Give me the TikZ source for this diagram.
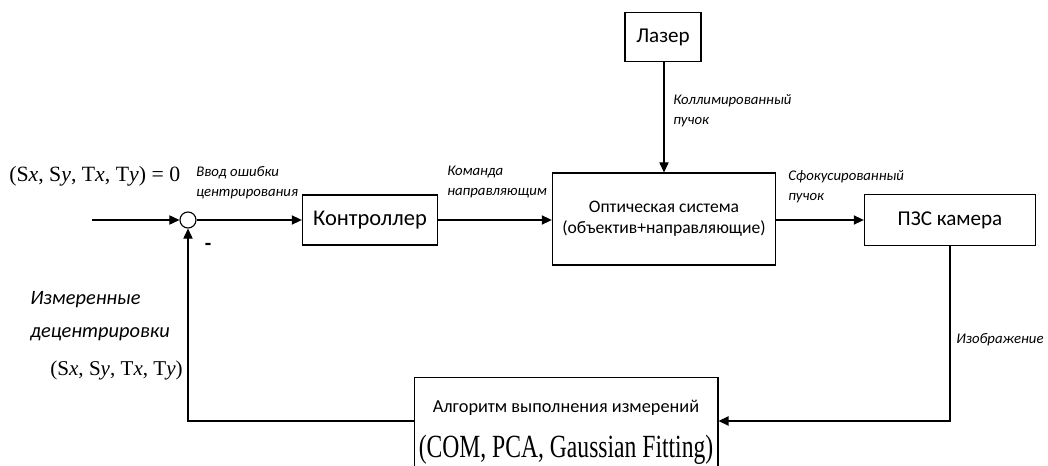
\documentclass[tikz,border=0pt]{standalone}
\usepackage{fontspec}
\setmainfont{Carlito}
\newfontfamily\timesfont{Liberation Serif}
\usepackage{tikz}
\usetikzlibrary{arrows.meta, positioning, calc}

\newcommand{\decvec}{(S\textit{x}, S\textit{y}, T\textit{x}, T\textit{y})}

\begin{document}
\begin{tikzpicture}[
    x=0.025cm, y=-0.025cm,
    block/.style={rectangle, draw=black, line width=0.8pt, align=center, font=\fontsize{15}{18}\selectfont},
    lbl/.style={align=left, font=\fontsize{10.5}{14}\selectfont\itshape, inner sep=0pt},
    arrow/.style={-{Triangle[length=2.5mm, width=2.3mm]}, line width=0.8pt},
  ]
  \useasboundingbox (0,0) rectangle (1048,466);
  \clip (0,0) rectangle (1048,466);

  \node[block, minimum width=1.9cm, minimum height=1.22cm] (laser) at (663,37) {Лазер};
  \node[block, minimum width=5.58cm, minimum height=2.3cm, font=\fontsize{12.5}{15}\selectfont] (optic) at (664,219) {Оптическая система\\(объектив+направляющие)};
  \node[block, minimum width=3.38cm, minimum height=1.25cm, font=\fontsize{16}{19}\selectfont] (ctrl) at (370,220) {Контроллер};
  \node[block, minimum width=4.28cm, minimum height=1.28cm] (cam) at (950,220) {ПЗС камера};
  \node[block, anchor=north, minimum width=7.3cm, minimum height=2.75cm, font=\fontsize{13}{16}\selectfont] (algo) at (566,377)
    {Алгоритм выполнения измерений\\[13pt]\scalebox{0.73}[1]{\fontsize{23}{26}\timesfont (COM, PCA, Gaussian Fitting)}};
  \node[circle, draw=black, line width=0.8pt, minimum size=0.4cm, inner sep=0pt] (sum) at (188,220) {};
  \coordinate (in) at (92,220);
  \coordinate (algoin) at ($(algo.north east)+(0,44)$);
  \coordinate (algoout) at ($(algo.north west)+(0,44)$);

  % labels
  \node[anchor=west, inner sep=0pt, font=\fontsize{15.5}{18}\timesfont] (ref) at (9,176) {\decvec{} = 0};
  \node[lbl, anchor=west] (errin) at (196,183) {Ввод ошибки\\центрирования};
  \node[lbl, anchor=west] (cmd) at (447,182) {Команда\\направляющим};
  \node[lbl, anchor=west] (coll) at (673,111) {Коллимированный\\пучок};
  \node[lbl, anchor=west] (focus) at (788,187) {Сфокусированный\\пучок};
  \node[lbl, anchor=west] (img) at (956,340) {Изображение};
  \node[font=\fontsize{15}{18}\selectfont\bfseries, inner sep=0pt] (minus) at (208,247) {-};
  \node[anchor=west, align=left, inner sep=0pt, font=\fontsize{14.5}{23}\selectfont\itshape] (meas) at (30,316) {Измеренные\\децентрировки};
  \node[anchor=east, inner sep=0pt, font=\fontsize{15}{18}\timesfont] (measvec) at (183,370) {\decvec};

  \draw[arrow] (in) -- (sum);
  \draw[arrow] (sum) -- (ctrl);
  \draw[arrow] (ctrl.east) -- (ctrl.east -| optic.west);
  \draw[arrow] (laser.south -| optic.north) -- (optic.north);
  \draw[arrow] (optic.east |- cam.west) -- (cam.west);
  \draw[arrow] (cam.south) |- (algoin);
  \draw[arrow] (algoout) -| (sum.south);

\end{tikzpicture}
\end{document}
